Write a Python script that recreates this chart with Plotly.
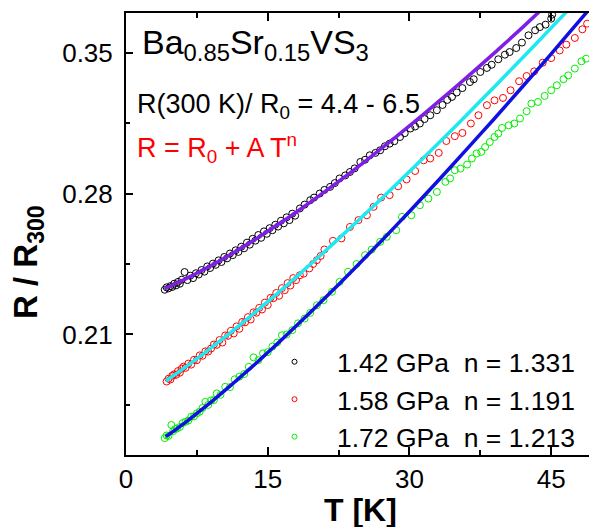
import plotly.graph_objects as go

# ---------------- data ----------------
T_142 = [4.1, 4.3, 4.5, 4.7, 4.9, 5.1, 5.3, 5.5, 5.7, 5.9, 6.2, 6.5, 6.8, 7.1, 7.4, 7.7, 8.0, 8.3, 8.6, 8.9,
         9.2, 9.5, 9.8, 10.1, 10.4, 10.7, 11.0, 11.3, 11.6, 11.9, 12.2, 12.5, 12.8, 13.1, 13.4, 13.7, 14.0,
         14.3, 14.6, 14.9, 15.2, 15.5, 15.8, 16.1, 16.4, 16.7, 17.0, 17.3, 17.6, 17.9,
         18.4, 18.9, 19.5, 19.9, 20.5, 21.0, 21.6, 22.1, 22.6, 23.2, 23.7, 24.2, 24.8, 25.3, 25.8, 26.4,
         26.9, 27.4, 27.9, 28.4, 29.0, 29.5, 30.1, 30.6, 31.1, 31.6, 32.2, 32.9, 33.5, 34.0, 34.5, 35.0,
         35.6, 36.4, 36.8, 37.5, 38.2, 38.7, 39.4, 40.1, 40.6, 41.3, 41.9, 42.6, 43.3, 43.8, 44.4, 45.0, 45.1]
R_142 = [0.2322, 0.2334, 0.2329, 0.2340, 0.2336, 0.2352, 0.2344, 0.2361, 0.2352, 0.2372, 0.2410, 0.2370,
         0.2392, 0.2380, 0.2404, 0.2398, 0.2420, 0.2412, 0.2438, 0.2430, 0.2452, 0.2446, 0.2468, 0.2460,
         0.2485, 0.2478, 0.2502, 0.2494, 0.2518, 0.2510, 0.2536, 0.2528, 0.2556, 0.2546, 0.2575, 0.2566,
         0.2594, 0.2580, 0.2612, 0.2600, 0.2628, 0.2618, 0.2645, 0.2636, 0.2665, 0.2652, 0.2682, 0.2668,
         0.2700, 0.2690,
         0.2726, 0.2745, 0.2767, 0.2780, 0.2800, 0.2818, 0.2833, 0.2852, 0.2875, 0.2890, 0.2907, 0.2925,
         0.2957, 0.2968, 0.2990, 0.3002, 0.3015, 0.3035, 0.3048, 0.3060, 0.3081, 0.3100, 0.3123, 0.3133,
         0.3148, 0.3170, 0.3189, 0.3214, 0.3240, 0.3265, 0.3280, 0.3302, 0.3324, 0.3354, 0.3368, 0.3404,
         0.3424, 0.3440, 0.3467, 0.3490, 0.3503, 0.3523, 0.3550, 0.3586, 0.3611, 0.3627, 0.3639, 0.3669, 0.3689]

T_158 = [4.3, 4.5, 4.7, 4.9, 5.1, 5.3, 5.5, 5.7, 5.9, 6.1, 6.3, 6.6, 6.9, 7.2, 7.5, 7.8, 8.1, 8.4, 8.7, 9.0,
         9.3, 9.6, 9.9, 10.2, 10.5, 10.8, 11.1, 11.4, 11.7, 12.0, 12.3, 12.6, 12.9, 13.2, 13.5, 13.8, 14.1,
         14.4, 14.7, 15.0, 15.3, 15.6, 15.9, 16.2, 16.5, 16.8, 17.1, 17.4, 17.7, 18.0,
         18.4, 18.8, 19.4, 19.8, 20.2, 20.6, 21.0, 21.9, 22.8, 23.7, 24.6, 25.5, 26.2, 27.0, 27.9, 28.8,
         29.7, 30.6, 31.5, 32.2, 33.1, 33.9, 34.8, 35.6, 36.5, 37.3, 38.2, 39.0, 39.9, 40.7, 41.6, 42.4,
         43.2, 44.1, 45.0, 45.9, 46.6, 47.5, 48.3, 48.8]
R_158 = [0.1866, 0.1880, 0.1876, 0.1895, 0.1902, 0.1899, 0.1918, 0.1910, 0.1930, 0.1940, 0.1934, 0.1955,
         0.1950, 0.1974, 0.1972, 0.1996, 0.1994, 0.2016, 0.2015, 0.2030, 0.2050, 0.2048, 0.2072, 0.2060,
         0.2095, 0.2093, 0.2118, 0.2105, 0.2140, 0.2128, 0.2162, 0.2160, 0.2186, 0.2174, 0.2210, 0.2208,
         0.2232, 0.2224, 0.2258, 0.2246, 0.2282, 0.2280, 0.2306, 0.2292, 0.2330, 0.2320, 0.2355, 0.2343,
         0.2380, 0.2370,
         0.2394, 0.2402, 0.2428, 0.2450, 0.2469, 0.2490, 0.2522, 0.2565, 0.2577, 0.2634, 0.2668, 0.2692,
         0.2734, 0.2780, 0.2792, 0.2836, 0.2870, 0.2912, 0.2965, 0.2974, 0.3002, 0.3061, 0.3085, 0.3101,
         0.3148, 0.3189, 0.3239, 0.3263, 0.3275, 0.3313, 0.3358, 0.3384, 0.3407, 0.3450, 0.3473, 0.3511,
         0.3540, 0.3573, 0.3616, 0.3644]

T_172 = [4.1, 4.3, 4.5, 4.8, 5.0, 5.2, 5.4, 5.7, 6.0, 6.3, 6.6, 6.9, 7.2, 7.5, 7.8, 8.1, 8.4, 8.7, 9.0, 9.3,
         9.6, 10.0, 10.5, 11.0, 11.5, 12.0, 12.5, 13.0, 13.5, 14.0, 14.5, 15.0, 15.5, 16.0, 16.5, 17.0, 17.6,
         18.2, 18.9, 19.5, 20.2, 20.9, 21.8, 22.6, 23.5, 24.4, 25.3, 26.0, 26.9, 27.6, 28.6, 29.2, 30.2,
         31.1, 32.0, 32.9, 33.8, 34.3, 34.8, 35.4, 36.1, 36.6, 37.1, 37.6, 38.0, 38.5, 39.0, 39.4, 39.8,
         40.5, 41.1, 41.7, 42.4, 42.9, 43.6, 44.3, 45.0, 45.6, 46.3, 46.8, 47.5, 48.2, 48.7]
R_172 = [0.1585, 0.1598, 0.1596, 0.1650, 0.1620, 0.1630, 0.1633, 0.1640, 0.1660, 0.1666, 0.1672, 0.1691,
         0.1693, 0.1708, 0.1716, 0.1735, 0.1765, 0.1750, 0.1772, 0.1774, 0.1807, 0.1800, 0.1840, 0.1838,
         0.1877, 0.1890, 0.1903, 0.1939, 0.1986, 0.1972, 0.2006, 0.2012, 0.2040, 0.2060, 0.2096, 0.2100,
         0.2121, 0.2155, 0.2179, 0.2207, 0.2245, 0.2270, 0.2312, 0.2361, 0.2411, 0.2450, 0.2494, 0.2522,
         0.2560, 0.2585, 0.2618, 0.2684, 0.2692, 0.2742, 0.2775, 0.2808, 0.2858, 0.2875, 0.2916, 0.2924,
         0.2944, 0.2974, 0.2999, 0.3007, 0.3031, 0.3056, 0.3081, 0.3098, 0.3126, 0.3139, 0.3148, 0.3173,
         0.3209, 0.3247, 0.3255, 0.3285, 0.3313, 0.3338, 0.3368, 0.3387, 0.3421, 0.3457, 0.3470]

# fit curves R = R0 + A T^n
T_fit_142 = [4.1, 5, 6, 7, 8, 9, 10, 11, 12, 13, 14, 15, 16, 17, 18, 21, 24, 27, 30, 33, 36, 39, 42, 45]
R_fit_142 = [0.2328, 0.2347, 0.2369, 0.2392, 0.2417, 0.2442, 0.2468, 0.2496, 0.2524, 0.2553, 0.2582,
             0.2613, 0.2644, 0.2675, 0.2707, 0.2808, 0.2913, 0.3023, 0.3136, 0.3254, 0.3375, 0.3499,
             0.3627, 0.3759]
T_fit_158 = [4.2, 5, 6, 7, 8, 9, 10, 11, 12, 13, 14, 15, 16, 17, 18, 21, 24, 27, 30, 33, 36, 39, 42, 45, 48]
R_fit_158 = [0.1870, 0.1895, 0.1928, 0.1962, 0.1997, 0.2033, 0.2070, 0.2107, 0.2145, 0.2184, 0.2223,
             0.2263, 0.2303, 0.2344, 0.2385, 0.2511, 0.2641, 0.2773, 0.2909, 0.3047, 0.3188, 0.3331,
             0.3476, 0.3623, 0.3771]
T_fit_172 = [4.2, 5, 6, 7, 8, 9, 10, 11, 12, 13, 14, 15, 16, 17, 18, 21, 24, 27, 30, 33, 36, 39, 42, 45, 48, 50]
R_fit_172 = [0.1592, 0.1618, 0.1653, 0.1689, 0.1726, 0.1764, 0.1803, 0.1843, 0.1884, 0.1925, 0.1967,
             0.2010, 0.2053, 0.2097, 0.2142, 0.2278, 0.2419, 0.2563, 0.2711, 0.2862, 0.3017, 0.3173,
             0.3333, 0.3494, 0.3659, 0.3769]

legend_names = ["1.42 GPa\u00a0 n = 1.331", "1.58 GPa\u00a0 n = 1.191", "1.72 GPa\u00a0 n = 1.213"]
x_ticks = [0, 15, 30, 45]
y_ticks = [0.21, 0.28, 0.35]

# ---------------- figure ----------------
W, H = 589, 527
L, R_, T_, B = 126, 0, 13, 72
PW, PH = W - L - R_, H - T_ - B


def px(x):
    return (x - L) / PW


def py(y):
    return (H - B - y) / PH


FONT = "Arial, Liberation Sans, sans-serif"
fig = go.Figure()

marker_colors = ["#000000", "#ff0000", "#00ee00"]
line_colors = ["#7f1fe6", "#1ee8f0", "#1010e0"]
datasets = [(T_142, R_142), (T_158, R_158), (T_172, R_172)]
fits = [(T_fit_142, R_fit_142), (T_fit_158, R_fit_158), (T_fit_172, R_fit_172)]

for (tx, ry), mc in zip(datasets, marker_colors):
    fig.add_trace(go.Scatter(x=tx, y=ry, mode="markers", showlegend=False,
                             marker=dict(symbol="circle-open", size=7, color=mc, line=dict(width=1, color=mc))))
for (tx, ry), lc in zip(fits, line_colors):
    fig.add_trace(go.Scatter(x=tx, y=ry, mode="lines", showlegend=False,
                             line=dict(color=lc, width=3.5, shape="spline", smoothing=0.6)))
for name, mc in zip(legend_names, marker_colors):
    fig.add_trace(go.Scatter(x=[None], y=[None], mode="markers", name=name,
                             marker=dict(symbol="circle-open", size=5, color=mc, line=dict(width=1, color=mc))))

fig.update_layout(
    width=W, height=H,
    margin=dict(l=L, r=R_, t=T_, b=B, pad=0),
    paper_bgcolor="white", plot_bgcolor="white",
    font=dict(family=FONT, color="black", size=26),
    showlegend=True,
    legend=dict(x=px(252), y=py(338), xanchor="left", yanchor="top",
                bgcolor="rgba(0,0,0,0)", font=dict(size=26.5, family=FONT),
                tracegroupgap=0, itemwidth=75),
    xaxis=dict(range=[0, 49.0], tickvals=x_ticks, ticktext=[str(v) for v in x_ticks],
               showgrid=False, zeroline=False, showline=True, linecolor="black", linewidth=2,
               mirror="ticks", ticks="inside", ticklen=8, tickwidth=2, tickcolor="black",
               minor=dict(tickvals=[7.5, 22.5, 37.5], ticks="inside", ticklen=5, tickwidth=2,
                          tickcolor="black", showgrid=False),
               tickfont=dict(size=26), ticklabelstandoff=0),
    yaxis=dict(range=[0.1501, 0.3697], tickvals=y_ticks, ticktext=["0.21", "0.28", "0.35"],
               showgrid=False, zeroline=False, showline=True, linecolor="black", linewidth=2,
               mirror=False, ticks="inside", ticklen=7, tickwidth=2, tickcolor="black",
               minor=dict(tickvals=[0.175, 0.245, 0.315], ticks="inside", ticklen=4, tickwidth=2,
                          tickcolor="black", showgrid=False),
               tickfont=dict(size=26), ticklabelstandoff=6),
)

ann = [
    dict(text="Ba<sub>0.85</sub>Sr<sub>0.15</sub>VS<sub>3</sub>", x=px(140), y=py(45),
         font=dict(size=34, color="black"), xanchor="left", yanchor="middle"),
    dict(text="R(300 K)/ R<sub>0</sub> = 4.4 - 6.5", x=px(135), y=py(106),
         font=dict(size=27, color="black"), xanchor="left", yanchor="middle"),
    dict(text="R = R<sub>0</sub> + A T<sup>n</sup>", x=px(135), y=py(148),
         font=dict(size=27, color="#ff0000"), xanchor="left", yanchor="middle"),
    dict(text="<b>T [K]</b>", x=px(360), y=py(510),
         font=dict(size=32, color="black"), xanchor="center", yanchor="middle"),
    dict(text="<b>R / R<sub>300</sub></b>", x=px(28), y=py(262), textangle=-90,
         font=dict(size=33, color="black"), xanchor="center", yanchor="middle"),
]
for a in ann:
    fig.add_annotation(xref="paper", yref="paper", showarrow=False, **a)

fig.write_html("out.html", config={"displayModeBar": False},
               post_script="document.body.style.margin='0';")
